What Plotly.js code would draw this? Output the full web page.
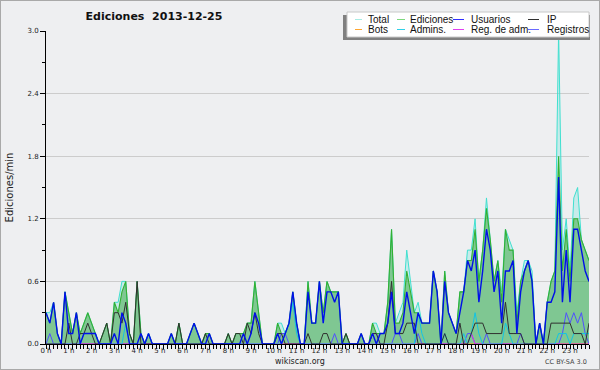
<!DOCTYPE html>
<html><head><meta charset="utf-8">
<script src="https://cdn.plot.ly/plotly-3.0.1.min.js"></script>
<style>
html,body{margin:0;padding:0;background:#fff;}
#chart{width:598px;height:368px;border:1px solid #a9a9a9;}
</style></head>
<body><div id="chart"></div>
<script>
// ---- data (edits per minute, 10-minute slots, 2013-12-25) ----
const hourTicks = [0,1,2,3,4,5,6,7,8,9,10,11,12,13,14,15,16,17,18,19,20,21,22,23];
const hourLabels = ['0 h','1 h','2 h','3 h','4 h','5 h','6 h','7 h','8 h','9 h','10 h','11 h','12 h','13 h','14 h','15 h','16 h','17 h','18 h','19 h','20 h','21 h','22 h','23 h'];
const slotHours = Array.from({length: 144}, (_, i) => i / 6);

const total = [
 .3,.3,.4,.1,0,.5,.3,.1,.3,.1,.2,.3,
 .2,.1,0,.1,.2,0,.4,.4,.6,.6,.1,0,
 .6,.1,0,.1,0,0,0,0,0,.1,0,.2,
 0,0,.1,.2,.1,0,.1,.1,0,0,0,0,
 .1,0,.1,.1,.1,.2,.2,.6,.3,0,0,0,
 0,.2,.2,.1,.2,.5,.2,0,0,.6,.2,.2,
 .6,.3,.6,.5,.5,.5,0,.1,0,0,0,.1,
 0,0,.2,.2,.1,.1,.4,1.1,.2,.3,.4,.9,
 .6,.3,.4,.2,.2,.2,.7,.5,0,.7,.3,.2,
 .1,.5,.5,.9,.9,1.2,.6,.9,1.4,1.0,.6,.8,
 .5,1.1,1.0,.9,.3,.6,.8,.8,.7,0,.2,0,
 .4,.6,.7,3.0,.9,1.2,.7,1.4,1.5,1.0,.9,.8];
const ediciones = [
 .3,.2,.4,.1,0,.5,.3,.1,.3,.1,.2,.3,
 .2,.1,0,.1,.2,0,.4,.3,.5,.6,.1,0,
 .6,.1,0,.1,0,0,0,0,0,.1,0,.2,
 0,0,.1,.2,.1,0,.1,.1,0,0,0,0,
 .1,0,.1,.1,.1,.2,.2,.6,.3,0,0,0,
 0,.2,.1,.1,.2,.5,.2,0,0,.6,.2,.2,
 .6,.3,.6,.5,.5,.5,0,.1,0,0,0,.1,
 0,0,.2,.1,.1,.1,.4,1.1,.2,.2,.3,.7,
 .5,.3,.3,.2,.2,.2,.7,.5,0,.7,.3,.2,
 .1,.5,.5,.8,.8,1.1,.6,.9,1.3,1.0,.6,.8,
 .4,1.1,.9,.9,.2,.6,.7,.8,.6,0,.2,0,
 .4,.6,.7,1.8,.7,1.1,.6,1.2,1.2,1.0,.9,.8];
const usuarios = [
 .3,.2,.4,.1,0,.5,.1,.1,.3,0,.1,.1,
 .1,.1,0,0,0,0,.1,0,.3,.2,0,0,
 0,.1,0,.1,0,0,0,0,0,.1,0,0,
 0,0,.1,.2,.1,0,0,.1,0,0,0,0,
 0,0,0,0,.1,0,.1,.3,.2,0,0,0,
 0,.1,0,.1,.2,.5,.2,0,0,.5,.2,.2,
 .6,.2,.5,.5,.4,.5,0,0,0,0,0,.1,
 0,0,.1,0,.1,.1,.2,.5,.1,.1,.2,.5,
 .3,.1,.3,.2,.2,.2,.7,.5,0,.6,.3,.2,
 .1,.3,.5,.8,.7,.9,.4,.7,1.1,.9,.5,.7,
 .2,.7,.7,.8,.1,.5,.7,.8,.6,0,.2,0,
 .4,.4,.5,1.6,.4,.9,.4,1.1,1.1,.9,.7,.6];
const ip = [
 0,0,0,0,0,0,.2,0,0,.1,.1,.2,
 .1,0,0,.1,.2,0,.3,.3,.2,.4,.1,0,
 .6,0,0,0,0,0,0,0,0,0,0,.2,
 0,0,0,0,0,0,.1,0,0,0,0,0,
 .1,0,.1,.1,0,.2,.1,.3,.1,0,0,0,
 0,.1,.1,0,0,0,0,0,0,.1,0,0,
 0,.1,.1,0,0,0,0,.1,0,0,0,0,
 0,0,.1,.1,0,0,.2,.6,.1,.1,.1,.2,
 .2,.2,0,0,0,0,0,0,0,.1,0,0,
 0,.2,0,0,.1,.2,.2,.2,.1,.1,.1,.1,
 .1,.4,.1,.1,.1,.1,0,0,0,0,0,0,
 0,.2,.2,.2,.2,.2,.2,.1,.1,.1,0,.2];
const bots = [
 0,0,0,0,0,0,0,0,0,0,0,0, 0,0,0,0,0,0,0,0,0,0,0,0,
 0,0,0,0,0,0,0,0,0,0,0,0, 0,0,0,0,0,0,0,0,0,0,0,0,
 0,0,0,0,0,0,0,0,0,0,0,0, 0,0,0,0,0,0,0,0,0,0,0,0,
 0,0,0,0,0,0,0,0,0,0,0,0, 0,0,0,0,0,0,0,0,0,0,0,0,
 0,0,0,0,0,0,0,0,0,0,0,0, 0,0,0,0,0,0,0,0,0,0,0,0,
 0,0,0,0,0,0,0,0,0,0,0,0, 0,0,0,0,0,0,0,0,0,0,0,0];
const admins = [
 0,0,0,0,0,0,0,0,0,0,.1,.1,
 .1,.1,0,0,0,0,0,0,0,.2,0,0,
 0,0,0,.1,0,0,0,0,0,0,0,0,
 0,0,0,0,0,0,0,0,0,0,0,0,
 0,0,0,0,0,0,0,0,0,0,0,0,
 0,0,0,.1,.2,.4,.1,0,0,0,0,0,
 0,0,0,0,0,0,0,0,0,0,0,0,
 0,0,0,0,0,0,0,0,0,0,0,0,
 0,0,.3,.1,0,0,0,0,0,.1,0,0,
 0,0,.1,0,.1,.3,.1,0,0,0,0,0,
 0,.2,.1,0,0,0,0,0,0,0,0,0,
 0,0,0,.1,.1,.1,0,.1,.1,.1,.1,.1];
const regAdm = [
 0,0,0,0,0,0,0,0,0,0,0,0, 0,0,0,0,0,0,0,0,0,0,0,0,
 0,0,0,0,0,0,0,0,0,0,0,0, 0,0,0,0,0,0,0,0,0,0,0,0,
 0,0,0,0,0,0,0,0,0,0,0,0, 0,0,0,0,0,0,0,0,0,0,0,0,
 0,0,0,0,0,0,0,0,0,0,0,0, 0,0,0,0,0,0,0,0,0,0,0,0,
 0,0,0,0,0,0,0,0,0,0,0,0, 0,0,0,0,.1,0,0,0,0,0,0,0,
 0,0,0,0,0,0,0,0,0,0,0,0, 0,0,0,0,0,0,0,0,0,0,0,0];
const registros = [
 0,.1,0,0,0,0,0,0,0,0,0,0,
 0,0,0,0,0,0,0,0,0,0,0,0,
 0,0,0,0,0,0,0,0,0,0,0,0,
 0,0,0,0,0,0,0,0,0,0,0,0,
 0,0,0,0,0,0,0,0,0,0,0,0,
 0,0,.1,.1,0,0,0,0,0,0,0,0,
 0,0,0,0,.1,0,0,0,0,0,0,0,
 0,0,.1,.1,0,0,0,0,.1,.1,0,0,
 0,0,.1,0,0,0,0,0,0,0,0,0,
 0,0,0,.1,.1,0,0,0,.1,0,0,0,
 0,0,0,0,0,.1,0,0,0,0,0,0,
 0,0,0,0,.1,.3,.2,.3,.2,.3,.1,0];

// ---- series styling ----
const series = [
  {name:'Total',        y: total,     line:'#40e0d0', w:1,   fill:'rgba(64,224,208,0.22)', key:'#a6ece4'},
  {name:'Ediciones',    y: ediciones, line:'#33b033', w:1.1, fill:'rgba(40,155,40,0.45)',  key:'#7ed87e'},
  {name:'Bots',         y: bots,      line:'#ff9f1a', w:1,   key:'#ffa630'},
  {name:'Registros',    y: registros, line:'#5050ff', w:1,   key:'#6a6aff'},
  {name:'Reg. de adm.', y: regAdm,    line:'#e030e0', w:1,   key:'#e040f0'},
  {name:'Admins.',      y: admins,    line:'#12c4e4', w:1,   key:'#30d0e8'},
  {name:'IP',           y: ip,        line:'#303030', w:1,   key:'#303030'},
  {name:'Usuarios',     y: usuarios,  line:'#0010e8', w:1.4, key:'#3030ff'}
];

const traces = series.map(s => ({
  type:'scatter', mode:'lines', name:s.name, x: slotHours, y: s.y,
  line:{color:s.line, width:s.w, shape:'linear'},
  fill: s.fill ? 'tozeroy' : 'none', fillcolor: s.fill,
  showlegend:false, hoverinfo:'skip'
}));

// ---- geometry helpers (page pixel -> paper) ----
const W = 598, H = 368, M = {l:45, r:10, t:30, b:25};
const PW = W - M.l - M.r, PH = H - M.t - M.b;
const px = v => (v - 1 - M.l) / PW;
const py = v => (H - M.b - (v - 1)) / PH;

// legend layout (4 columns x 2 rows)
const legendRows = [
  ['Total','Ediciones','Usuarios','IP'],
  ['Bots','Admins.','Reg. de adm.','Registros']
];
const colLine = [[355,362],[397,405],[453,464],[528,539]];
const colText = [366, 408, 469, 545];
const rowY = [19.5, 29.5];

const shapes = [
  {type:'rect', xref:'paper', yref:'paper', x0:px(343), x1:px(590), y0:py(40), y1:py(15),
   fillcolor:'#808080', line:{width:0}, layer:'above'},
  {type:'rect', xref:'paper', yref:'paper', x0:px(347), x1:px(589), y0:py(37), y1:py(12),
   fillcolor:'#ffffff', line:{color:'#c8c8c8', width:1}, layer:'above'}
];
const annotations = [];
legendRows.forEach((row, r) => row.forEach((name, c) => {
  const s = series.find(d => d.name === name);
  shapes.push({type:'line', xref:'paper', yref:'paper', x0:px(colLine[c][0]), x1:px(colLine[c][1]),
    y0:py(rowY[r]), y1:py(rowY[r]), line:{color:s.key, width:1}, layer:'above'});
  annotations.push({xref:'paper', yref:'paper', x:px(colText[c]), y:py(rowY[r]), xanchor:'left', yanchor:'middle',
    text:name, showarrow:false, font:{family:'Liberation Sans', size:10, color:'#111'}});
}));
annotations.push({xref:'paper', yref:'paper', x:px(300), y:py(361.5), xanchor:'center', yanchor:'middle',
  text:'wikiscan.org', showarrow:false, font:{family:'DejaVu Sans', size:8, color:'#222'}});
annotations.push({xref:'paper', yref:'paper', x:px(589), y:py(362), xanchor:'right', yanchor:'middle',
  text:'CC BY-SA 3.0', showarrow:false, font:{family:'DejaVu Sans', size:6.5, color:'#444'}});

const layout = {
  width: W, height: H, margin: M,
  paper_bgcolor:'#eeeff1', plot_bgcolor:'#eeeff1',
  title:{text:'Ediciones\u00a0 2013-12-25', xref:'container', yref:'container',
    x:(154-1)/W, xanchor:'center', y:1-(16-1)/H, yanchor:'middle',
    font:{family:'DejaVu Sans', size:11, weight:'bold', color:'#111'}},
  xaxis:{range:[0, 143/6], tickmode:'array', tickvals:hourTicks, ticktext:hourLabels,
    showline:true, linecolor:'#000', linewidth:1, ticks:'outside', ticklen:4, tickcolor:'#000',
    ticklabelstandoff:-4,
    showgrid:false, zeroline:false, fixedrange:true,
    tickfont:{family:'DejaVu Sans', size:7, color:'#222'},
    minor:{dtick:1/6, tick0:0, ticks:'outside', ticklen:4, tickcolor:'#000', showgrid:false}},
  yaxis:{range:[0,3], tick0:0, dtick:0.6, tickformat:'.1f',
    showline:true, linecolor:'#000', linewidth:1, ticks:'outside', ticklen:5, tickcolor:'#000',
    showgrid:true, gridcolor:'#cccccc', gridwidth:1, zeroline:false, fixedrange:true,
    tickfont:{family:'DejaVu Sans', size:7, color:'#222'},
    minor:{dtick:0.3, tick0:0, ticks:'outside', ticklen:3, tickcolor:'#000', showgrid:false},
    title:{text:'Ediciones/min', standoff:11, font:{family:'DejaVu Sans', size:10, color:'#222'}}},
  shapes, annotations, showlegend:false
};

Plotly.newPlot('chart', traces, layout, {staticPlot:true, displayModeBar:false});
</script>
</body></html>
